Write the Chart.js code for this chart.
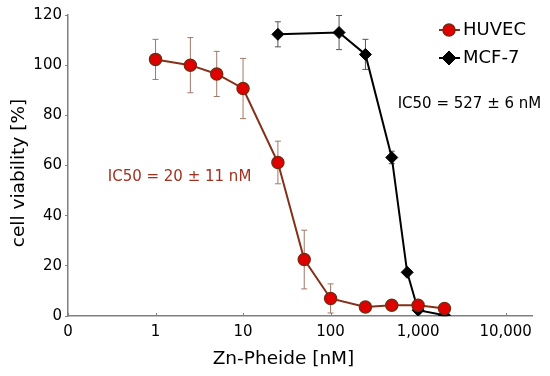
<!DOCTYPE html>
<html>
<head>
<meta charset="utf-8">
<script src="https://cdn.jsdelivr.net/npm/chart.js@4"></script>
<style>
  html, body { margin: 0; padding: 0; background: #fff; }
  #wrap { width: 550px; height: 376px; }
</style>
</head>
<body>
<div id="wrap"><canvas id="c" width="550" height="376"></canvas></div>
<script>
// concentrations in nM, viability in %
let huvecX = [1, 2.5, 5, 10, 25, 50, 100, 250, 500, 1000, 2000];
let huvecY = [102.3, 100, 96.5, 90.7, 61.2, 22.5, 7, 3.6, 4.3, 4.3, 3];
let huvecErr = [8, 11, 9, 12, 8.5, 11.7, 5.8, 1, 1, 1.5, 1];

let mcfX = [25, 125, 250, 500, 750, 1000, 2000];
let mcfY = [112.3, 113, 104.3, 63.2, 17.4, 2.3, 0.3];
let mcfErr = [5, 6.8, 6, 2.5, 1, 0.5, 0.5];

let xTicks = [0.1, 1, 10, 100, 1000, 10000];
let yTicks = [0, 20, 40, 60, 80, 100, 120];

let font = "'DejaVu Sans', sans-serif";
let red = '#e00000';
let redLine = '#85301a';
let redText = '#a3301f';

// error bars drawn under the markers
let errorBars = {
    id: 'errorBars',
    beforeDatasetsDraw(chart) {
        let ctx = chart.ctx;
        let xs = chart.scales.x, ys = chart.scales.y;
        chart.data.datasets.forEach(ds => {
            ctx.save();
            ctx.strokeStyle = ds.errColor;
            ctx.lineWidth = 1;
            ds.data.forEach((p, i) => {
                let e = ds.err[i];
                let px = xs.getPixelForValue(p.x);
                let top = ys.getPixelForValue(p.y + e);
                let bot = ys.getPixelForValue(Math.max(p.y - e, 0));
                ctx.beginPath();
                ctx.moveTo(px, top); ctx.lineTo(px, bot);
                ctx.moveTo(px - 3, top); ctx.lineTo(px + 3, top);
                ctx.moveTo(px - 3, bot); ctx.lineTo(px + 3, bot);
                ctx.stroke();
            });
            ctx.restore();
        });
        // x ticks point up into the plot
        ctx.save();
        ctx.strokeStyle = '#808080';
        ctx.lineWidth = 1;
        xTicks.forEach(v => {
            let px = Math.round(xs.getPixelForValue(v)) + 0.5;
            ctx.beginPath();
            ctx.moveTo(px, ys.bottom); ctx.lineTo(px, ys.bottom - 3);
            ctx.stroke();
        });
        ctx.restore();
    }
};

// axis titles, IC50 labels and legend
let labels = {
    id: 'labels',
    afterDraw(chart) {
        let ctx = chart.ctx;
        let xs = chart.scales.x, ys = chart.scales.y;
        ctx.save();
        ctx.textAlign = 'center';
        ctx.textBaseline = 'middle';
        ctx.fillStyle = '#000';
        ctx.font = '18.5px ' + font;
        ctx.fillText('Zn-Pheide [nM]', 283.5, 359);
        ctx.save();
        ctx.translate(19, 173);
        ctx.rotate(-Math.PI / 2);
        ctx.fillText('cell viability [%]', 0, 0);
        ctx.restore();

        ctx.font = '15px ' + font;
        ctx.fillStyle = redText;
        ctx.fillText('IC50 = 20 \u00b1 11 nM', xs.getPixelForValue(1.88), ys.getPixelForValue(55.2));
        ctx.fillStyle = '#000';
        ctx.fillText('IC50 = 527 \u00b1 6 nM', xs.getPixelForValue(3860), ys.getPixelForValue(84.5));

        let area = chart.chartArea;
        let lx = area.right - 83;
        chart.data.datasets.forEach((ds, i) => {
            let ly = area.top + 15 + i * 28;
            ctx.strokeStyle = ds.borderColor;
            ctx.lineWidth = 2;
            ctx.beginPath();
            ctx.moveTo(lx - 10, ly); ctx.lineTo(lx + 11, ly);
            ctx.stroke();
            ctx.fillStyle = ds.pointBackgroundColor;
            ctx.strokeStyle = ds.pointBorderColor;
            ctx.lineWidth = ds.pointBorderWidth;
            ctx.beginPath();
            if (ds.pointStyle === 'circle') {
                ctx.arc(lx, ly, 6, 0, Math.PI * 2);
            } else {
                ctx.moveTo(lx, ly - 7); ctx.lineTo(lx + 7, ly);
                ctx.lineTo(lx, ly + 7); ctx.lineTo(lx - 7, ly);
                ctx.closePath();
            }
            ctx.fill(); ctx.stroke();
            ctx.fillStyle = '#000';
            ctx.font = '18px ' + font;
            ctx.textAlign = 'left';
            ctx.fillText(ds.label, lx + 14, ly);
        });
        ctx.restore();
    }
};

new Chart(document.getElementById('c'), {
    type: 'line',
    data: {
        datasets: [{
            label: 'HUVEC',
            data: huvecX.map((x, i) => ({ x: x, y: huvecY[i] })),
            err: huvecErr,
            errColor: '#a07868',
            borderColor: redLine,
            borderWidth: 2,
            pointStyle: 'circle',
            pointRadius: 6,
            pointBackgroundColor: red,
            pointBorderColor: '#7a2810',
            pointBorderWidth: 1.5,
            tension: 0
        }, {
            label: 'MCF-7',
            data: mcfX.map((x, i) => ({ x: x, y: mcfY[i] })),
            err: mcfErr,
            errColor: '#555',
            borderColor: '#000',
            borderWidth: 2,
            pointStyle: 'rectRot',
            pointRadius: 6,
            pointBackgroundColor: '#000',
            pointBorderColor: '#000',
            pointBorderWidth: 1,
            tension: 0
        }]
    },
    options: {
        responsive: false,
        animation: false,
        layout: { padding: { top: 15, right: 18, left: 0, bottom: 0 } },
        plugins: {
            legend: { display: false },
            tooltip: { enabled: false }
        },
        scales: {
            x: {
                type: 'logarithmic',
                min: 0.1,
                max: 20000,
                afterBuildTicks: axis => { axis.ticks = xTicks.map(v => ({ value: v })); },
                afterFit: s => { s.height = 60; },
                border: { color: '#808080', width: 1.5 },
                grid: { drawOnChartArea: false, drawTicks: false },
                ticks: {
                    color: '#000',
                    padding: 7,
                    maxRotation: 0,
                    autoSkip: false,
                    font: { family: font, size: 15 },
                    callback: v => v === 0.1 ? '0' : Number(v).toLocaleString('en-US')
                }
            },
            y: {
                min: 0,
                max: 120,
                afterBuildTicks: axis => { axis.ticks = yTicks.map(v => ({ value: v })); },
                afterFit: s => { s.width = 68; },
                border: { color: '#808080', width: 1.5 },
                grid: { drawOnChartArea: false, color: '#808080', tickLength: 3 },
                ticks: {
                    color: '#000',
                    padding: 3,
                    font: { family: font, size: 15 }
                }
            }
        }
    },
    plugins: [errorBars, labels]
});
</script>
</body>
</html>
